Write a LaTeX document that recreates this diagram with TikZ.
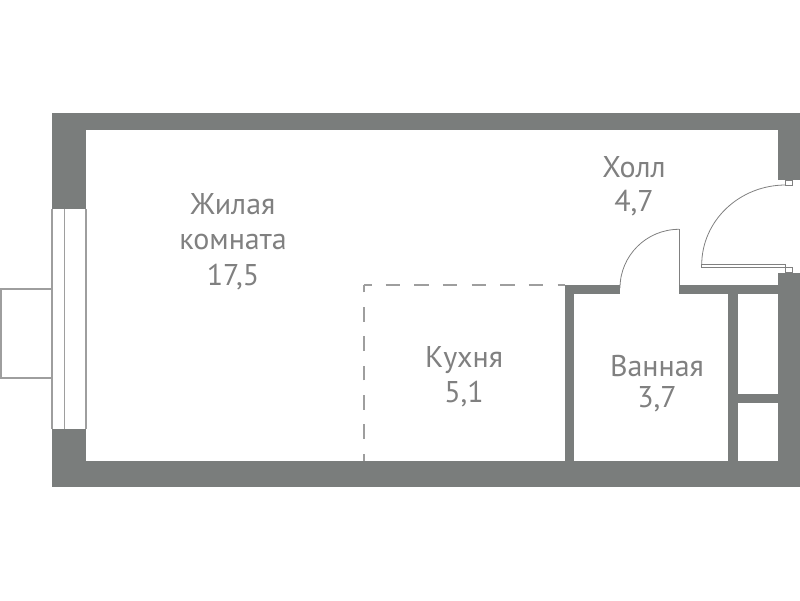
\documentclass[tikz,border=0pt]{standalone}
\usepackage{fontspec}
\setmainfont{PT Sans}
\definecolor{wallgray}{rgb}{0.48,0.49,0.485}
\definecolor{linegray}{rgb}{0.62,0.62,0.62}
\definecolor{labelgray}{rgb}{0.5,0.5,0.5}
\tikzset{
  wall/.style={fill=wallgray},
  thinline/.style={draw=linegray,line width=1.1pt},
  doorline/.style={draw=gray,line width=0.8pt},
  partition/.style={draw=linegray,line width=1.3pt},
  roomlabel/.style={text=labelgray,font=\fontsize{30}{35.5}\selectfont,align=center}
}
\begin{document}
\begin{tikzpicture}[x=1pt,y=-1pt]
\useasboundingbox (0,0) rectangle (800,600);

% balcony and window
\draw[thinline] (52,289) -- (1,289) -- (1,378) -- (52,378);
\draw[thinline] (52,209) -- (52,429);
\draw[thinline] (64.5,209) -- (64.5,429);
\draw[thinline] (86,209) -- (86,429);

% outer walls
\fill[wall] (52,113) rectangle (800,130);
\fill[wall] (52,113) rectangle (86,209);
\fill[wall] (52,429) rectangle (86,487);
\fill[wall] (52,461) rectangle (800,487);
\fill[wall] (778,113) rectangle (800,180);
\fill[wall] (778,272.5) rectangle (800,487);

% inner walls
\fill[wall] (564.5,285) rectangle (620,294);
\fill[wall] (678.7,285) rectangle (778,294);
\fill[wall] (564.5,285) rectangle (574,461);
\fill[wall] (728.3,285) rectangle (737.7,461);
\fill[wall] (737.7,394) rectangle (778,403.3);

% kitchen border
\draw[partition,dash pattern=on 14.7pt off 14.6pt,dash phase=7.2pt] (364,461) -- (364,285);
\draw[partition,dash pattern=on 14.5pt off 14.15pt,dash phase=7pt] (364,285) -- (565,285);

% entrance door
\draw[doorline] (785.7,185) .. controls (739.3,185) and (701.7,220.8) .. (701.7,265);
\draw[doorline] (701.7,264.3) rectangle (785.7,267.3);
\draw[doorline] (785.7,180) rectangle (792,185);
\draw[doorline] (785.7,267.3) rectangle (792,272.5);

% bathroom door
\draw[doorline] (679,229.3) .. controls (646.4,229.3) and (620,255.7) .. (620,288);
\draw[doorline] (679,229.3) -- (679,285);

\node[roomlabel] (living) at (233,241.5) {Жилая\\комната\\17,5};
\node[roomlabel] (hall) at (634,186.5) {Холл\\[-1.5pt]4,7};
\node[roomlabel] (kitchen) at (464,376.5) {Кухня\\5,1};
\node[roomlabel] (bath) at (657,384) {Ванная\\[-4.5pt]3,7};
\end{tikzpicture}
\end{document}
